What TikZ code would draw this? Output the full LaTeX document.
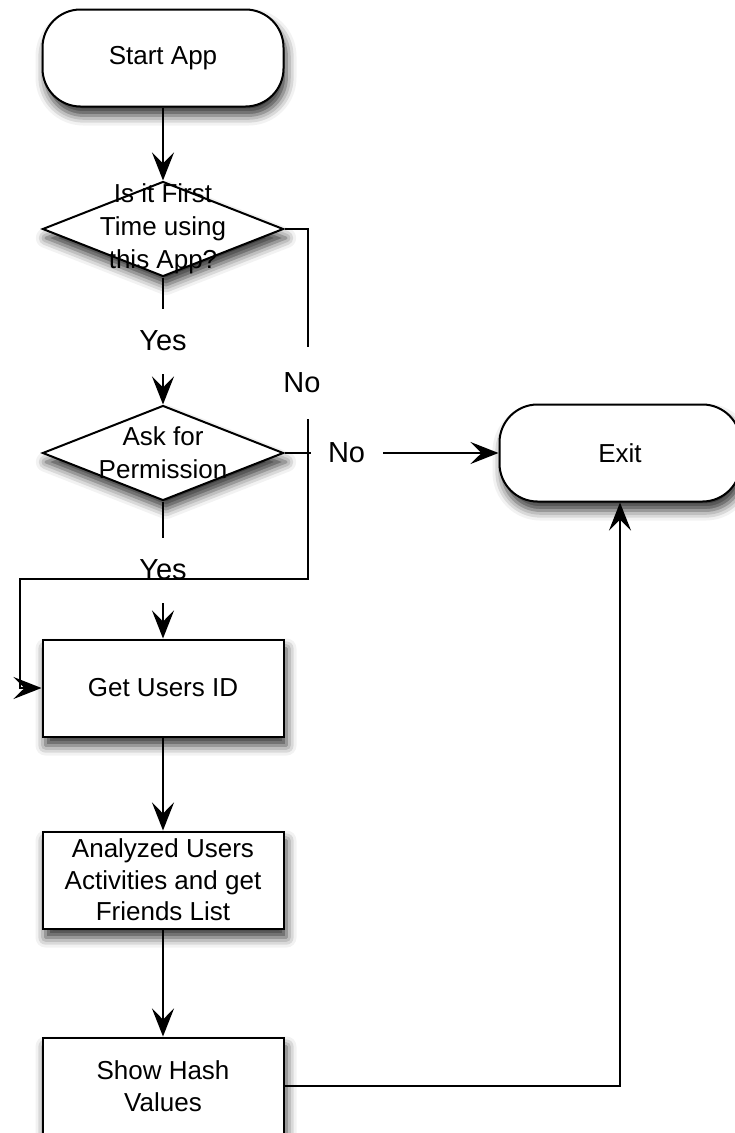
\documentclass[tikz,border=0pt]{standalone}
\usepackage{fontspec}
\setmainfont{Liberation Sans}
\usetikzlibrary{arrows.meta, shapes.geometric, shadows.blur}
\tikzset{
    base/.style   ={draw, line width=2pt, fill=white, align=center,
                    font=\fontsize{26}{31.5}\selectfont, inner sep=0pt,
                    blur shadow={shadow xshift=3pt, shadow yshift=-9pt,
                                 shadow blur radius=10pt, shadow opacity=80}},
    term/.style   ={base, rounded corners=38pt, minimum width=241pt, minimum height=97pt},
    proc/.style   ={base, minimum width=241pt, minimum height=97pt},
    dec/.style    ={base, diamond, minimum width=241pt, minimum height=95pt},
    dectxt/.style ={align=center, inner sep=0pt, font=\fontsize{26}{33}\selectfont},
    flow/.style   ={-{Stealth[length=28pt, width=22pt, inset=11pt]}, line width=2pt},
    lbl/.style    ={fill=white, inner sep=0pt, font=\fontsize{29}{34}\selectfont},
}

\begin{document}
\begin{tikzpicture}[x=1pt, y=-1pt]
\useasboundingbox (0,0) rectangle (734,1133);

% ===================== Bloques =====================
\node[term] (start) at (163,58) {Start App};
\node[dec, label={[dectxt]center:{Is it First\\Time using\\this App?}}] (first) at (163,229) {};
\node[dec, label={[dectxt]center:{Ask for\\Permission}}] (perm) at (163,453) {};
\node[term] (exit) at (620,453) {Exit};
\node[proc] (getid) at (163,688) {Get Users ID};
\node[proc] (analyze) at (163,880) {Analyzed Users\\Activities and get\\Friends List};
\node[proc] (hash) at (163,1086) {Show Hash\\Values};

% ===================== Rodeo del "No" =====================
\coordinate (loopR) at (308,579);
\coordinate (loopL) at (20,579);

% ===================== Flujo principal =====================
\draw[flow] (start) -- (first);
\draw[flow] (first.south) -- node[lbl, minimum height=65pt] {Yes} (perm.north);
\draw[flow] (perm.south) -- node[lbl, minimum height=65pt] {Yes} (getid.north);
\draw[flow] (getid) -- (analyze);
\draw[flow] (analyze) -- (hash);

% ===================== Ramas =====================
\draw[flow] (first.east) -| node[lbl, pos=0.72, minimum height=72pt, xshift=-6pt] {No}
      (loopR) -- (loopL) |- (getid.west);
\draw[flow] (perm.east) -- node[lbl, pos=0.29, minimum width=72pt] {No} (exit.west);
\draw[flow] (hash.east) -| (exit.south);

\end{tikzpicture}
\end{document}
